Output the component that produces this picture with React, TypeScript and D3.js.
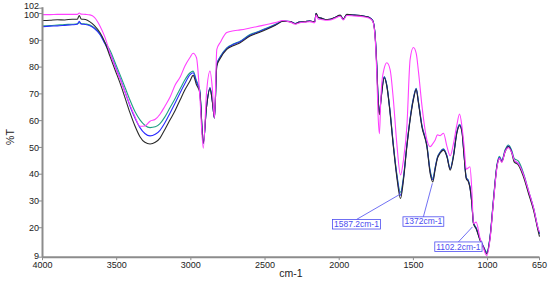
import React, { useEffect, useRef } from 'react';
import * as d3 from 'd3';

const wavenumbers = [
  4000, 3950, 3900, 3850, 3800, 3765, 3752, 3740, 3710, 3680,
  3650, 3612, 3580, 3545, 3510, 3477, 3443, 3410, 3376, 3343,
  3310, 3275, 3240, 3208, 3175, 3140, 3105, 3072, 3040, 3005,
  2985, 2962, 2940, 2916, 2895, 2871, 2855, 2841, 2825, 2800,
  2758, 2710, 2668, 2601, 2540, 2488, 2430, 2378, 2330, 2296,
  2270, 2230, 2197, 2165, 2156, 2142, 2120, 2095, 2061, 2030,
  1993, 1973, 1949, 1900, 1839, 1800, 1775, 1760, 1747, 1738,
  1729, 1720, 1713, 1697, 1679, 1657, 1635, 1612, 1587, 1567,
  1544, 1522, 1500, 1481, 1466, 1443, 1409, 1387, 1369, 1353,
  1338, 1320, 1297, 1274, 1252, 1230, 1207, 1189, 1173, 1158,
  1144, 1129, 1119, 1106, 1095, 1077, 1050, 1028, 1005, 983,
  960, 937, 920, 904, 882, 859, 836, 821, 792, 758,
  724, 690, 657, 650,
];

const blackT = [
  97.4, 97.5, 97.7, 97.6, 97.9, 97.9, 99.3, 98.0, 97.8, 96.9,
  95.5, 92.8, 89.3, 84.0, 78.8, 74.0, 68.4, 62.9, 57.9, 54.0,
  51.9, 51.3, 51.9, 53.5, 56.7, 60.3, 63.9, 67.8, 71.5, 74.9,
  76.9, 73.4, 70.5, 51.7, 64.8, 71.9, 67.0, 61.0, 80.4, 83.4,
  86.6, 88.1, 89.1, 91.6, 92.9, 94.1, 95.6, 97.1, 97.0, 96.2,
  96.8, 97.0, 97.2, 96.9, 100.1, 98.6, 98.3, 97.8, 97.9, 98.5,
  99.4, 97.9, 99.7, 99.4, 99.1, 98.6, 97.4, 93.0, 80.4, 68.0,
  62.2, 66.8, 70.4, 76.0, 72.8, 62.8, 50.3, 39.0, 30.9, 37.8,
  50.3, 60.3, 67.8, 71.6, 66.6, 57.8, 50.3, 40.3, 37.1, 41.9,
  45.9, 47.8, 49.0, 46.5, 41.5, 46.5, 55.3, 58.1, 55.9, 46.5,
  38.4, 37.1, 35.0, 29.0, 21.5, 19.6, 15.2, 12.7, 10.2, 16.4,
  30.2, 42.8, 45.9, 44.6, 48.4, 50.3, 47.8, 44.6, 43.4, 39.0,
  32.8, 26.5, 18.3, 16.7,
];

const blueT = [
  95.1, 95.3, 95.4, 95.6, 95.8, 96.0, 97.1, 96.1, 95.9, 95.4,
  94.4, 92.1, 88.8, 85.1, 80.3, 75.8, 70.6, 65.4, 60.9, 57.4,
  55.2, 54.3, 54.9, 56.4, 59.2, 62.9, 66.7, 70.4, 73.9, 77.2,
  77.9, 74.4, 71.0, 51.5, 64.8, 72.2, 67.3, 61.0, 80.9, 83.9,
  86.9, 88.5, 89.5, 91.9, 93.2, 94.4, 95.8, 97.2, 97.0, 96.3,
  96.8, 97.0, 97.2, 96.9, 100.0, 98.5, 98.2, 97.8, 97.9, 98.5,
  99.3, 97.9, 99.6, 99.4, 99.1, 98.6, 97.5, 93.2, 80.8, 68.4,
  62.6, 67.1, 70.7, 76.3, 73.1, 63.1, 50.7, 39.7, 32.1, 38.4,
  50.7, 60.7, 68.2, 71.9, 66.9, 58.2, 50.7, 40.9, 37.9, 42.4,
  46.2, 48.1, 49.3, 46.8, 41.9, 46.9, 55.7, 58.4, 56.2, 46.9,
  38.7, 37.4, 35.2, 29.2, 21.7, 19.8, 15.4, 12.9, 10.5, 16.7,
  30.5, 43.1, 46.2, 44.9, 48.7, 50.5, 48.2, 45.2, 43.9, 39.7,
  33.4, 27.1, 18.9, 17.7,
];

const tealT = [
  95.4, 95.5, 95.7, 95.9, 96.0, 96.2, 96.6, 96.3, 96.1, 95.7,
  94.6, 92.4, 89.3, 86.3, 81.6, 77.1, 72.3, 67.6, 63.3, 60.3,
  58.3, 57.4, 57.7, 58.9, 61.4, 64.9, 68.4, 71.9, 75.3, 77.9,
  78.5, 74.9, 71.5, 51.5, 64.9, 72.4, 67.4, 61.0, 81.2, 84.1,
  87.2, 88.7, 89.7, 92.2, 93.4, 94.6, 96.0, 97.2, 97.0, 96.3,
  96.8, 97.0, 97.2, 96.9, 100.0, 98.5, 98.2, 97.8, 97.9, 98.5,
  99.3, 97.9, 99.6, 99.4, 99.1, 98.6, 97.5, 93.3, 81.0, 68.6,
  62.8, 67.3, 70.9, 76.5, 73.3, 63.4, 51.1, 40.2, 33.2, 38.9,
  50.9, 60.9, 68.4, 72.1, 67.1, 58.4, 50.9, 41.4, 38.4, 42.6,
  46.4, 48.3, 49.5, 46.9, 42.1, 47.1, 55.9, 58.6, 56.4, 47.1,
  38.9, 37.6, 35.4, 29.4, 21.9, 20.0, 15.6, 13.1, 10.9, 16.9,
  30.9, 43.4, 46.7, 45.1, 49.1, 50.9, 48.7, 45.9, 44.9, 40.4,
  33.9, 27.4, 19.2, 17.9,
];

const magentaT = [
  99.6, 99.6, 99.7, 99.7, 99.7, 99.7, 100.2, 99.8, 99.7, 99.5,
  98.6, 95.3, 91.3, 85.3, 80.0, 75.5, 70.6, 65.8, 61.4, 57.9,
  58.0, 59.8, 60.5, 62.4, 65.4, 68.8, 73.4, 76.3, 80.4, 83.7,
  85.2, 83.5, 69.5, 49.7, 70.0, 78.5, 72.0, 61.0, 86.6, 89.4,
  92.9, 93.6, 93.9, 94.6, 95.3, 95.9, 96.6, 97.4, 96.8, 96.0,
  96.5, 96.8, 97.0, 96.6, 99.4, 98.0, 97.8, 97.5, 97.6, 98.2,
  99.0, 97.6, 99.3, 99.1, 98.8, 98.3, 97.2, 92.5, 78.0, 62.0,
  55.1, 67.5, 74.0, 79.5, 81.6, 79.1, 67.8, 51.6, 39.7, 45.3,
  57.8, 82.9, 87.3, 85.1, 78.4, 65.9, 52.8, 50.3, 51.4, 52.8,
  54.7, 54.4, 55.3, 50.4, 46.9, 51.4, 58.4, 62.5, 58.0, 50.4,
  41.9, 42.4, 42.8, 34.0, 21.5, 22.1, 15.9, 12.4, 9.6, 15.9,
  29.9, 42.4, 45.9, 44.4, 48.4, 49.9, 47.9, 45.4, 43.9, 39.9,
  33.9, 27.4, 19.4, 18.4,
];

const yTicks = [102, 100, 90, 80, 70, 60, 50, 40, 30, 20, 9];
const xTicks = [4000, 3500, 3000, 2500, 2000, 1500, 1000, 650];
const xTitle = 'cm-1';
const yTitle = '%T';

const peakLabels = ['1587.2cm-1', '1372cm-1', '1102.2cm-1'];
const peakWavenumbers = [1587.2, 1372, 1102.2];
const peakT = [32.6, 36.6, 20.3];

const seriesColors = ['#1fa082', '#2b2bff', '#2a2a2a', '#ff40ff'];
// label box offsets (px) relative to the marked point
const labelOffsets = [
  { dx: -44, dy: 25.5 },
  { dx: -9, dy: 33.5 },
  { dx: -14, dy: 15 },
];

export default function App() {
  const ref = useRef<SVGSVGElement | null>(null);

  useEffect(() => {
    const svg = d3.select(ref.current);
    svg.selectAll('*').remove();

    const x = d3.scaleLinear().domain([4000, 650]).range([42.5, 539.5]);
    const y = d3.scaleLinear().domain([9, 102]).range([257.2, 8.2]);

    const font = 'Arial, "Liberation Sans", sans-serif';

    // series
    const allSeries = [tealT, blueT, blackT, magentaT];
    const line = d3
      .line<number>()
      .x((_, i) => x(wavenumbers[i]))
      .y((d) => y(d))
      .curve(d3.curveMonotoneX);

    allSeries.forEach((s, k) => {
      svg
        .append('path')
        .attr('d', line(s) as string)
        .attr('fill', 'none')
        .attr('stroke', seriesColors[k])
        .attr('stroke-width', 1.1)
        .attr('stroke-linejoin', 'round');
    });

    // axes
    const axisColor = '#8c8c8c';
    const gy = svg.append('g');
    gy.append('line')
      .attr('x1', x(4000)).attr('x2', x(4000))
      .attr('y1', y(102) - 1).attr('y2', y(9))
      .attr('stroke', axisColor).attr('stroke-width', 2);
    yTicks.forEach((t) => {
      gy.append('line')
        .attr('x1', x(4000) - 4).attr('x2', x(4000))
        .attr('y1', y(t)).attr('y2', y(t))
        .attr('stroke', axisColor).attr('stroke-width', 1);
      const shift = t === 102 ? -2.6 : t === 100 ? 1.2 : t === 9 ? -1.5 : 0;
      gy.append('text')
        .attr('x', x(4000) - 3.5)
        .attr('y', y(t) + 3.2 + shift)
        .attr('text-anchor', 'end')
        .attr('font-family', font)
        .attr('font-size', 9)
        .attr('fill', '#222')
        .text(String(t));
    });

    const gx = svg.append('g');
    gx.append('line')
      .attr('x1', x(4000)).attr('x2', x(650))
      .attr('y1', y(9)).attr('y2', y(9))
      .attr('stroke', axisColor).attr('stroke-width', 2);
    xTicks.forEach((t) => {
      gx.append('line')
        .attr('x1', x(t)).attr('x2', x(t))
        .attr('y1', y(9)).attr('y2', y(9) + 3)
        .attr('stroke', axisColor).attr('stroke-width', 1);
      gx.append('text')
        .attr('x', x(t))
        .attr('y', y(9) + 10.3)
        .attr('text-anchor', 'middle')
        .attr('font-family', font)
        .attr('font-size', 9)
        .attr('fill', '#222')
        .text(String(t));
    });

    svg.append('text')
      .attr('x', 291).attr('y', 277)
      .attr('text-anchor', 'middle')
      .attr('font-family', font)
      .attr('font-size', 10.5)
      .attr('fill', '#222')
      .text(xTitle);

    svg.append('text')
      .attr('transform', 'translate(14,137) rotate(-90)')
      .attr('text-anchor', 'middle')
      .attr('font-family', font)
      .attr('font-size', 10.5)
      .attr('fill', '#222')
      .text(yTitle);

    // peak annotations
    const annColor = '#4d4df0';
    peakLabels.forEach((lab, i) => {
      const px = x(peakWavenumbers[i]);
      const py = y(peakT[i]);
      const cx = px + labelOffsets[i].dx;
      const top = py + labelOffsets[i].dy;
      const g = svg.append('g');
      g.append('line')
        .attr('x1', px).attr('y1', py)
        .attr('x2', cx).attr('y2', top)
        .attr('stroke', annColor).attr('stroke-width', 0.8);
      const txt = g.append('text')
        .attr('x', cx).attr('y', top + 7.6)
        .attr('text-anchor', 'middle')
        .attr('font-family', font)
        .attr('font-size', 8.5)
        .attr('fill', annColor)
        .text(lab);
      const w = (txt.node() as SVGTextElement).getComputedTextLength();
      g.insert('rect', 'text')
        .attr('x', cx - w / 2 - 1.5).attr('y', top)
        .attr('width', w + 3).attr('height', 9.5)
        .attr('fill', '#fff')
        .attr('stroke', annColor).attr('stroke-width', 0.8);
    });
  }, []);

  return (
    <svg
      ref={ref}
      width={550}
      height={283}
      style={{ position: 'absolute', left: 0, top: 0, background: '#fff' }}
    />
  );
}
